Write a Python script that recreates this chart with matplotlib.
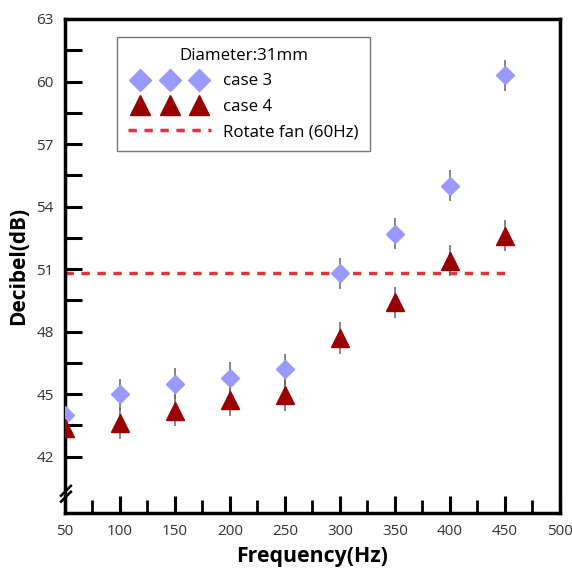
import matplotlib
matplotlib.use("Agg")
import matplotlib.pyplot as plt
from matplotlib.lines import Line2D
from matplotlib.legend_handler import HandlerLine2D

plt.rcParams['font.family'] = ['Open Sans', 'DejaVu Sans']

freq = [50, 100, 150, 200, 250, 300, 350, 400, 450]
case3 = [44.0, 45.0, 45.5, 45.8, 46.2, 50.8, 52.7, 55.0, 60.3]
case4 = [43.4, 43.6, 44.2, 44.7, 44.95, 47.7, 49.4, 51.4, 52.6]
err3 = [0.75] * 9
err4 = [0.75] * 9
fan_level = 50.8
fan_range = [50, 450]
xticks = [50, 100, 150, 200, 250, 300, 350, 400, 450, 500]
yticks = [42, 45, 48, 51, 54, 57, 60, 63]

fig = plt.figure(figsize=(5.72, 5.70), dpi=100)
ax = fig.add_axes([0.1136, 0.1, 0.865, 0.8667])

ax.errorbar(freq, case3, yerr=err3, fmt='none', ecolor='#666666', elinewidth=1.1, zorder=2)
ax.errorbar(freq, case4, yerr=err4, fmt='none', ecolor='#666666', elinewidth=1.1, zorder=2)
l3, = ax.plot(freq, case3, linestyle='none', marker='D', ms=9, color='#9999ff',
              markeredgecolor='#9999ff', label='case 3', zorder=3)
l4, = ax.plot(freq, case4, linestyle='none', marker='^', ms=12.5, color='#990000',
              markeredgecolor='#990000', label='case 4', zorder=3)
lf, = ax.plot(fan_range, [fan_level, fan_level], color='#e0353a', lw=2.5,
              dashes=(2.4, 2.2), label='Rotate fan (60Hz)', zorder=1)

ax.set_xlim(50, 500)
ax.set_ylim(39.3, 63)
ax.set_xticks(xticks)
ax.set_xticks([75, 125, 175, 225, 275, 325, 375, 425, 475], minor=True)
ax.set_yticks(yticks)
ax.set_yticks([43.5, 46.5, 49.5, 52.5, 55.5, 58.5, 61.5], minor=True)
ax.tick_params(axis='both', which='major', direction='in', length=12, width=2.2,
               labelsize=11, labelcolor='#333333', pad=8)
ax.tick_params(axis='x', which='minor', direction='in', length=9.5, width=2.0)
ax.tick_params(axis='y', which='minor', direction='in', length=12, width=2.2)
for s in ax.spines.values():
    s.set_linewidth(2.5)

ax.set_xlabel('Frequency(Hz)', fontsize=15.3, fontweight='bold', labelpad=5)
ax.set_ylabel('Decibel(dB)', fontsize=15, fontweight='bold', labelpad=5)

# axis break marks on left spine
for dy in (-0.012, 0.0):
    ax.add_line(Line2D([-0.008, 0.012], [0.035 + dy, 0.055 + dy], transform=ax.transAxes,
                       color='black', lw=1.8, clip_on=False, zorder=5))

fs = 12.2
leg = ax.legend(title='Diameter:31mm', loc='upper left', bbox_to_anchor=(0.105, 0.9636),
                borderaxespad=0, numpoints=3, markerscale=1.2, fontsize=fs,
                title_fontsize=fs, frameon=True, fancybox=False, edgecolor='#555555',
                handlelength=4.9, handletextpad=0.72, borderpad=0.66, labelspacing=0.55,
                handler_map={l3: HandlerLine2D(marker_pad=0.7),
                             l4: HandlerLine2D(marker_pad=0.7),
                             lf: HandlerLine2D(marker_pad=0.0)})
leg.get_frame().set_linewidth(1.0)

fig.savefig('out.png', dpi=100)
